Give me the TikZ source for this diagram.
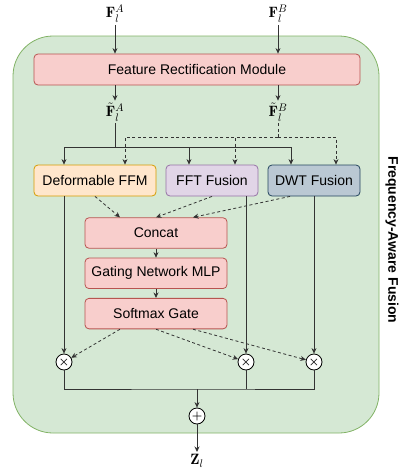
\documentclass[tikz,border=0pt]{standalone}
\usepackage{fontspec}
\setsansfont{Liberation Sans}
\usepackage{amsmath, amssymb}
\usepackage{xcolor}
\usetikzlibrary{arrows.meta, positioning}
\definecolor{grnfill}{HTML}{D5E8D4}
\definecolor{grnline}{HTML}{82B366}
\definecolor{redfill}{HTML}{F8CECC}
\definecolor{redline}{HTML}{B85450}
\definecolor{orgfill}{HTML}{FFE6CC}
\definecolor{orgline}{HTML}{D79B00}
\definecolor{purfill}{HTML}{E1D5E7}
\definecolor{purline}{HTML}{9673A6}
\definecolor{blufill}{HTML}{BAC8D3}
\definecolor{bluline}{HTML}{23445D}
\definecolor{wire}{HTML}{333333}
\tikzset{
    container/.style = {draw=grnline, fill=grnfill, line width=0.8pt, rounded corners=40pt},
    block/.style = {draw, line width=0.8pt, rounded corners=4pt, font=\sffamily\fontsize{14}{16}\selectfont, inner sep=0pt},
    redblock/.style = {block, draw=redline, fill=redfill},
    sym/.style = {font=\fontsize{15}{17}\selectfont, inner sep=2pt},
    op/.style = {circle, draw=black, fill=white, line width=0.8pt, minimum size=16pt, inner sep=0pt, font=\fontsize{13}{13}\selectfont},
    wireline/.style = {wire, line width=0.8pt},
    arr/.style = {wireline, -{Stealth[length=5.5pt, width=5pt]}},
    darr/.style = {arr, dashed, dash pattern=on 3pt off 2.5pt}
}

\begin{document}
\begin{tikzpicture}[x=1pt, y=-1pt]
  \useasboundingbox (0,0) rectangle (401,472);

  % outer module
  \node[container, minimum width=366pt, minimum height=397pt] (afm) at (196,234.5) {};
  \node[rotate=-90, font=\sffamily\bfseries\fontsize{14}{16}\selectfont] (title) at (392,240) {Frequency-Aware Fusion};

  % inputs and rectification
  \node[sym] (fa) at (115,14) {$\mathbf{F}_l^A$};
  \node[sym] (fb) at (278,14) {$\mathbf{F}_l^B$};
  \node[redblock, minimum width=326pt, minimum height=31pt] (frm) at (197,69.5) {Feature Rectification Module};
  \node[sym] (tfa) at (115,112) {$\tilde{\mathbf{F}}_l^A$};
  \node[sym] (tfb) at (278,112) {$\tilde{\mathbf{F}}_l^B$};

  % fusion branches
  \node[block, draw=orgline, fill=orgfill, minimum width=122pt, minimum height=31pt] (dffm) at (95,180.5) {Deformable FFM};
  \node[block, draw=purline, fill=purfill, minimum width=92pt, minimum height=31pt] (fft) at (212,180.5) {FFT Fusion};
  \node[block, draw=bluline, fill=blufill, minimum width=92pt, minimum height=31pt] (dwt) at (314,180.5) {DWT Fusion};

  % gating
  \node[redblock, minimum width=142pt, minimum height=30.5pt] (concat) at (156,233) {Concat};
  \node[redblock, minimum width=142pt, minimum height=30.5pt, below=9pt of concat] (mlp) {Gating Network MLP};
  \node[redblock, minimum width=142pt, minimum height=30.5pt, below=9pt of mlp] (gate) {Softmax Gate};

  % weighting and sum
  \node[op] (m1) at (64,362) {$\boldsymbol{\times}$};
  \node[op] (m2) at (246,362) {$\boldsymbol{\times}$};
  \node[op] (m3) at (314,362) {$\boldsymbol{\times}$};
  \node[op] (plus) at (197,416) {$\boldsymbol{+}$};
  \node[sym, anchor=north] (z) at (197,452) {$\mathbf{Z}_l$};

  \coordinate (ja) at (115,147);
  \coordinate (jb) at (278,137);
  \coordinate (jz) at (197,389);

  \draw[arr] (fa) -- (fa |- frm.north);
  \draw[arr] (fb) -- (fb |- frm.north);
  \draw[arr] (frm.south -| tfa) -- (tfa);
  \draw[arr] (frm.south -| tfb) -- (tfb);

  \draw[wireline] (tfa) -- (ja);
  \foreach \n/\o in {dffm/-31, fft/-23, dwt/-23}
    \draw[arr] (ja) -| ([xshift=\o pt]\n.north);
  \draw[wireline, dashed, dash pattern=on 3pt off 2.5pt] (tfb) -- (jb);
  \foreach \n/\o in {dffm/30, fft/23, dwt/22}
    \draw[darr] (jb) -| ([xshift=\o pt]\n.north);

  \draw[darr] (dffm.south) -- ([xshift=-36pt]concat.north);
  \draw[darr] (fft.south) -- (concat.north);
  \draw[darr] ([xshift=-24pt]dwt.south) -- ([xshift=37pt]concat.north);
  \draw[arr] (concat) -- (mlp);
  \draw[arr] (mlp) -- (gate);

  \draw[arr] (dffm.south -| m1) -- (m1);
  \draw[arr] (fft.south -| m2) -- (m2);
  \draw[arr] (dwt) -- (m3);
  \draw[darr] ([xshift=-36pt]gate.south) -- (m1);
  \draw[darr] (gate.south) -- (m2);
  \draw[darr] ([xshift=37pt]gate.south) -- (m3);

  \draw[wireline] (m1) |- (jz) -| (m3);
  \draw[wireline] (m2) -- (m2 |- jz);
  \draw[arr] (jz) -- (plus);
  \draw[arr] (plus) -- (z);
\end{tikzpicture}
\end{document}
